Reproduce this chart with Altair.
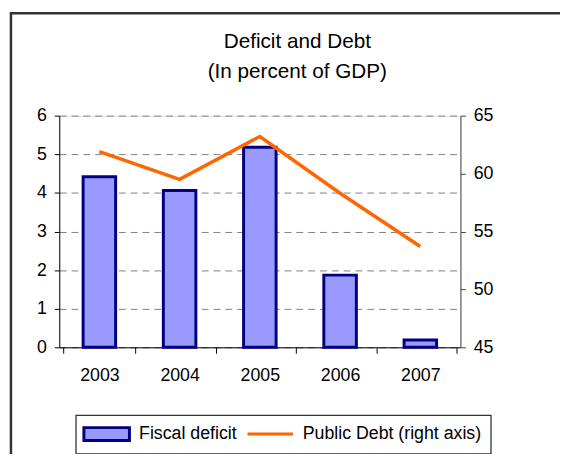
import altair as alt
import pandas as pd

years = ["2003", "2004", "2005", "2006", "2007"]
deficit = [4.42, 4.06, 5.18, 1.87, 0.19]
debt = [61.9, 59.5, 63.2, 58.3, 53.7]
series_names = ["Fiscal deficit", "Public Debt (right axis)"]
left_ticks = [0, 1, 2, 3, 4, 5, 6]
right_ticks = [45, 50, 55, 60, 65]

FONT = "Liberation Sans"

bars_df = pd.DataFrame({"year": years, "value": deficit, "series": series_names[0]})
line_df = pd.DataFrame({"year": years, "value": debt, "series": series_names[1]})
one_df = pd.DataFrame({"a": [0]})

common_legend = dict(
    title=None, orient="none", direction="horizontal",
    labelFontSize=18, labelFont=FONT, labelColor="black", labelLimit=400,
    symbolSize=196, padding=0, labelOffset=40, symbolStrokeWidth=3, symbolOpacity=1,
)
legend_bar = alt.Legend(legendX=23, legendY=314,
                        symbolType="M-1,-0.93H5.6V0.93H-1Z",
                        symbolFillColor="#9999FF", symbolStrokeColor="#000080",
                        **common_legend)
legend_line = alt.Legend(legendX=189, legendY=314,
                         symbolType="M-1,0H5.6",
                         symbolStrokeColor="#FF6600",
                         **common_legend)

x_enc = alt.X("year:N", sort=years, title=None, axis=alt.Axis(
    labelAngle=0, tickBand="extent", tickSize=6, labelPadding=14,
    labelFontSize=18, labelFont=FONT, labelColor="black",
    domainColor="black", tickColor="black", grid=False))

# chart outer frame (left and top edges visible) and legend box
frame_left = alt.Chart(one_df).mark_rule(stroke="#333333", strokeWidth=2.5, clip=False).encode(
    x=alt.value(-49), y=alt.value(-105), y2=alt.value(400))
frame_top = alt.Chart(one_df).mark_rule(stroke="#333333", strokeWidth=2.5, clip=False).encode(
    x=alt.value(-50), x2=alt.value(600), y=alt.value(-104))
legend_box = alt.Chart(one_df).mark_rect(fill="white", stroke="#333333", strokeWidth=1.3, clip=False).encode(
    x=alt.value(17), x2=alt.value(438), y=alt.value(304), y2=alt.value(343))

bars = alt.Chart(bars_df).mark_bar(size=33, stroke="#000080", strokeWidth=3, opacity=1).encode(
    x=x_enc,
    y=alt.Y("value:Q", scale=alt.Scale(domain=[0, 6], nice=False), title=None,
            axis=alt.Axis(values=left_ticks, orient="left", tickSize=5, labelPadding=8,
                          labelFontSize=18, labelFont=FONT, labelColor="black",
                          domainColor="black", tickColor="black",
                          grid=True, gridDash=[7, 5], gridColor="#808080")),
    fill=alt.Fill("series:N", scale=alt.Scale(domain=[series_names[0]], range=["#9999FF"]),
                  legend=legend_bar),
)

line = alt.Chart(line_df).mark_line(strokeWidth=3.5).encode(
    x=x_enc,
    y=alt.Y("value:Q", scale=alt.Scale(domain=[45, 65], nice=False), title=None,
            axis=alt.Axis(values=right_ticks, orient="right", tickSize=5, labelPadding=8,
                          labelFontSize=18, labelFont=FONT, labelColor="black",
                          domainColor="#444444", tickColor="#444444", grid=False)),
    stroke=alt.Stroke("series:N", scale=alt.Scale(domain=[series_names[1]], range=["#FF6600"]),
                      legend=legend_line),
)

chart = alt.layer(frame_left, frame_top, legend_box, bars, line).resolve_scale(
    y="independent").properties(
    width=407, height=235,
    autosize=alt.AutoSizeParams(type="none"),
    padding={"left": 52, "top": 106, "right": 101, "bottom": 105},
    title=alt.TitleParams(["Deficit and Debt", "(In percent of GDP)"], fontSize=21,
                          font=FONT, fontWeight="normal", color="black",
                          lineHeight=30, anchor="middle", dx=38, dy=103, offset=31,
                          frame="group"),
).configure_view(stroke="#808080").configure(background="white")

chart.save("out.html", embed_options={"renderer": "svg", "actions": False})
